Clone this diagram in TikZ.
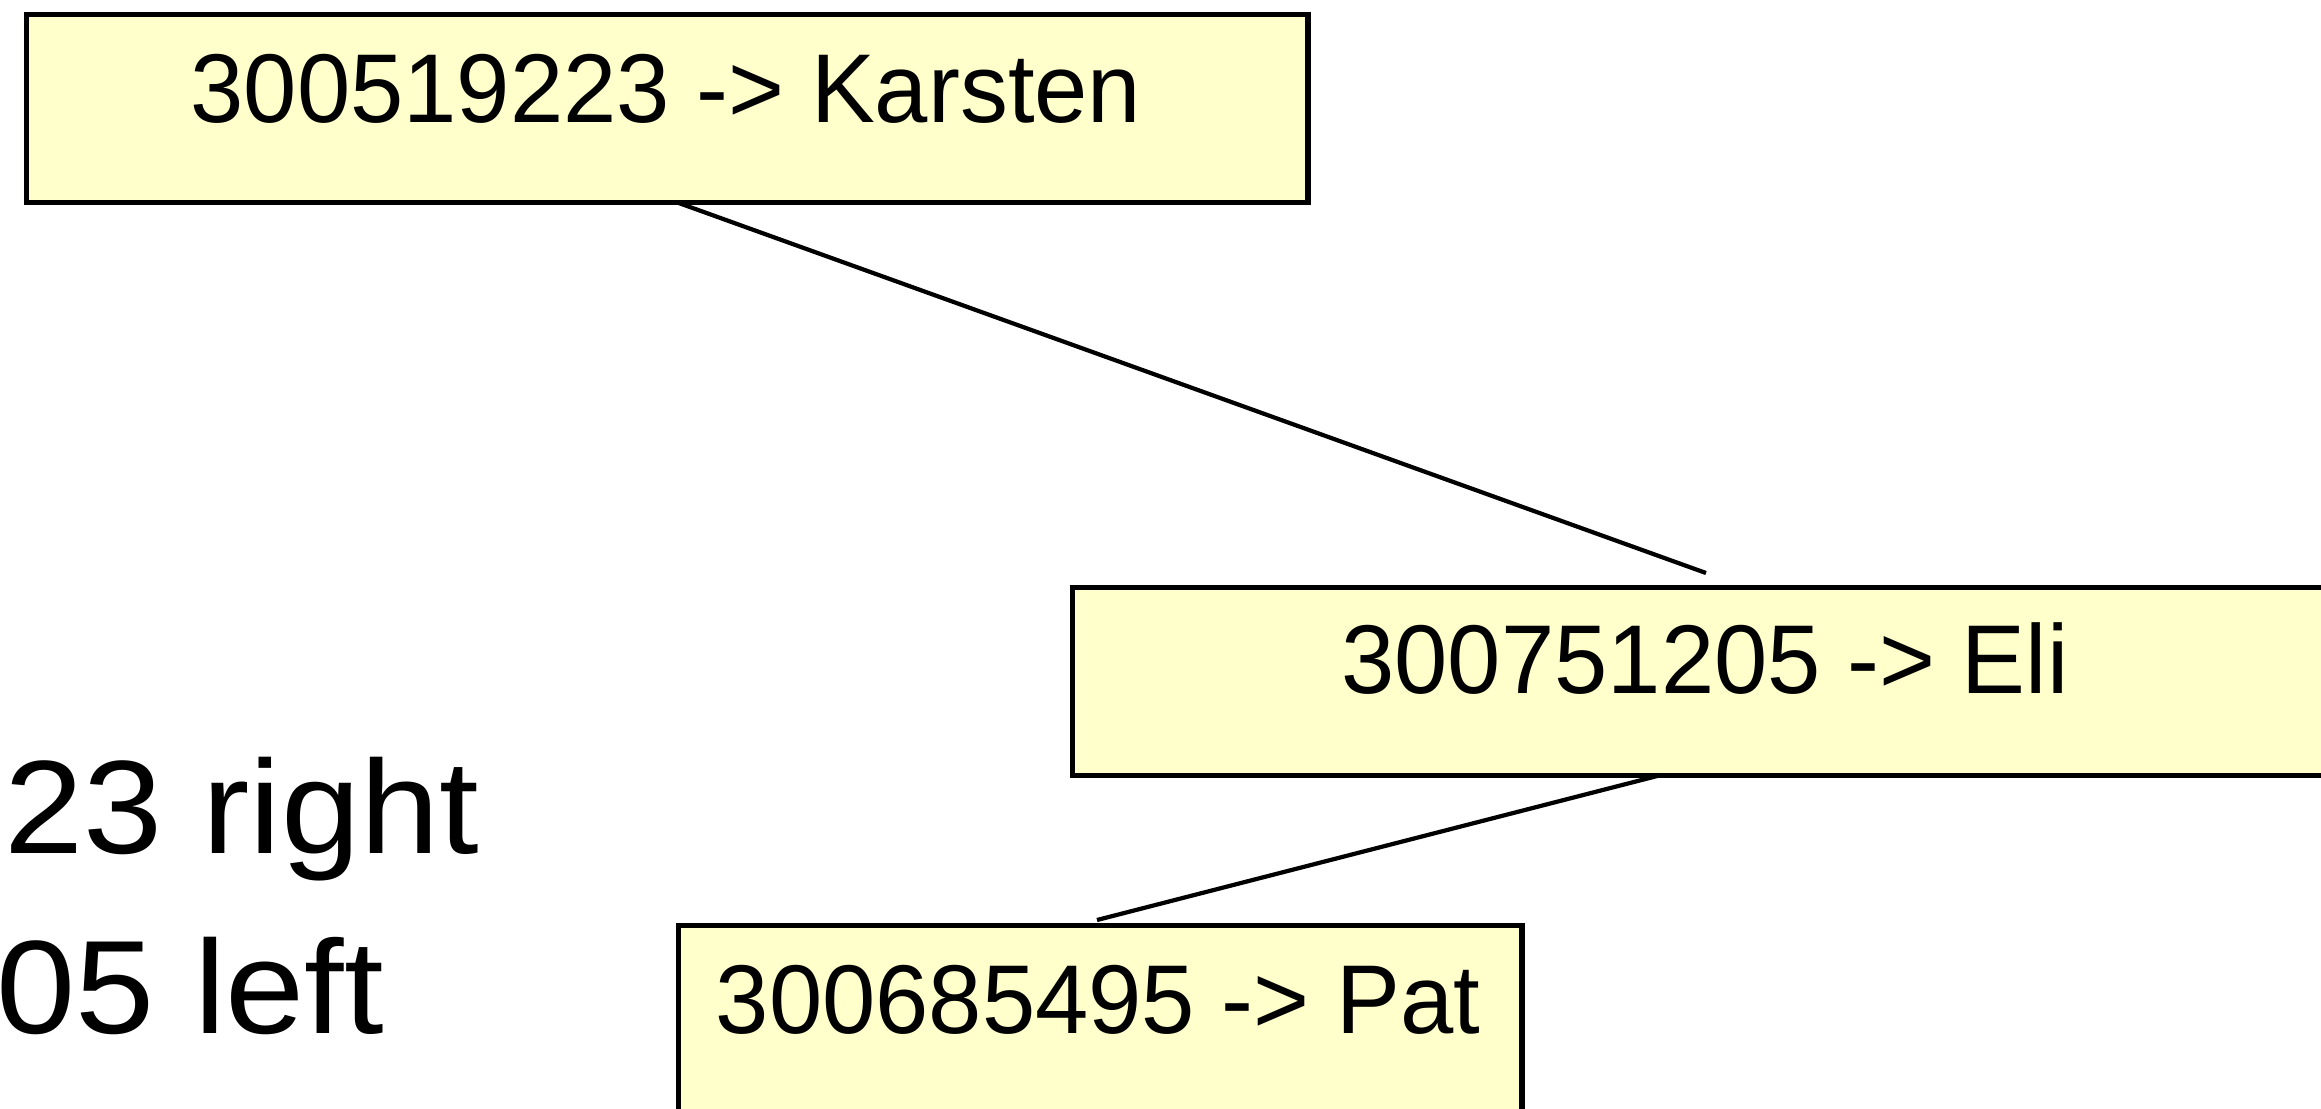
\documentclass[tikz,border=0pt]{standalone}
\usepackage{fontspec}
\setmainfont{Liberation Sans}
\newfontfamily\boxfont[FakeStretch=0.98]{Liberation Sans}
\newfontfamily\sidefont[FakeStretch=1.07]{Liberation Sans}
\definecolor{boxfill}{HTML}{FFFFCC}
\begin{document}
\begin{tikzpicture}[x=0.01cm,y=-0.01cm,
  treebox/.style={draw=black,fill=boxfill,line width=1.6pt,rectangle,inner sep=0pt,anchor=north west,minimum height=1.88cm},
  boxtext/.style={anchor=base,inner sep=0pt,font=\boxfont\fontsize{27.8pt}{33pt}\selectfont},
  sidetext/.style={anchor=base west,inner sep=0pt,font=\sidefont\fontsize{37.8pt}{45pt}\selectfont},
  link/.style={draw=black,line width=1.2pt}]
\useasboundingbox (0,0) rectangle (2321,1108);
\clip (0,0) rectangle (2321,1108);
\node[treebox,minimum width=12.81cm] (b1) at (23.5,11.5) {};
\node[treebox,minimum width=12.81cm] (b2) at (1069.5,584.5) {};
\node[treebox,minimum width=8.43cm] (b3) at (675.5,922.5) {};
\node[boxtext] (t1) at (666,122) {300519223 -> Karsten};
\node[boxtext] (t2) at (1705,693) {300751205 -> Eli};
\node[boxtext] (t3) at (1098,1033) {300685495 -> Pat};
\node[sidetext] (s1) at (4,853) {23 right};
\node[sidetext] (s2) at (-4,1033) {05 left};
\coordinate (l1a) at (676,202);
\coordinate (l1b) at (1706,573);
\coordinate (l2a) at (1661,775);
\coordinate (l2b) at (1097,920);
\draw[link] (l1a) -- (l1b);
\draw[link] (l2a) -- (l2b);
\end{tikzpicture}
\end{document}
